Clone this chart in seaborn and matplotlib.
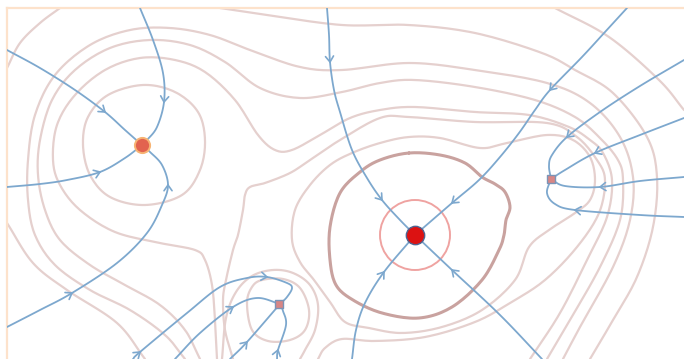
import numpy as np
import pandas as pd
import matplotlib
matplotlib.use("Agg")
import matplotlib.pyplot as plt
from matplotlib.patches import Circle
import seaborn as sns

# ---- isolines of the scalar field (pixel-space coordinates, y downwards) ----
iso_lines = {
    "corner":  ([7, 20, 40, 60], [68, 43, 23, 8]),
    "outer":   ([7, 33, 67, 117, 145], [223, 263, 290, 323, 359]),
    "top_r":   ([555, 609, 659, 684], [8, 37, 80, 110]),
    "A": ([220, 267, 342, 409, 475, 542, 575, 613, 647, 657, 653, 637, 613, 590],
          [8, 15, 25, 25, 33, 53, 70, 93, 137, 177, 227, 277, 320, 359]),
    "B": ([185, 165, 130, 90, 55, 35, 28, 28, 35, 55, 90, 130, 170, 210, 250, 300, 342,
           409, 475, 547, 590, 620, 633, 630, 613, 580, 563],
          [359, 335, 310, 290, 265, 235, 200, 160, 115, 75, 45, 30, 28, 35, 50, 67, 70,
           63, 70, 83, 103, 137, 177, 220, 267, 327, 359]),
    "C": ([200, 185, 160, 125, 90, 60, 45, 38, 40, 52, 75, 110, 150, 190, 225, 260, 300,
           342, 380, 415, 475, 535, 575, 600, 618, 623, 620, 600, 570, 547],
          [359, 330, 305, 285, 265, 240, 210, 175, 140, 100, 70, 48, 40, 45, 62, 88, 98,
           92, 83, 80, 87, 100, 117, 138, 160, 180, 220, 267, 320, 359]),
    "D": ([217, 215, 212, 205, 195, 160, 115, 80, 60, 53, 57, 75, 105, 140, 175, 205,
           235, 258, 275, 292, 320, 350, 380, 415, 475, 529, 569, 590, 603, 612, 607,
           587, 560, 530],
          [359, 320, 285, 260, 250, 243, 232, 210, 185, 160, 125, 95, 70, 58, 60, 72,
           100, 135, 150, 150, 135, 118, 110, 107, 112, 115, 127, 140, 153, 180, 217,
           260, 313, 359]),
    "E": ([233, 225, 223, 226, 233, 238, 243, 245, 250, 265, 290, 310, 340, 380, 409,
           475, 547, 577, 597, 605, 599, 577, 545, 510, 475, 425, 375, 342, 325, 318],
          [359, 330, 300, 280, 250, 235, 210, 195, 187, 183, 173, 160, 140, 118, 117,
           122, 123, 137, 160, 180, 213, 247, 280, 303, 322, 337, 341, 339, 348, 359]),
    "S2": ([222, 226, 236, 252, 273, 293, 310, 318, 315, 305, 300],
           [359, 318, 292, 276, 270, 273, 285, 305, 330, 350, 359]),
}
# closed isolines
iso_loops = {
    "peak_ring": ([83, 88, 108, 143, 175, 198, 205, 200, 182, 145, 110, 90],
                  [145, 117, 95, 85, 92, 112, 140, 170, 195, 205, 197, 175]),
    "F": ([352, 330, 310, 295, 292, 300, 314, 330, 345, 369, 402, 442, 482, 515, 529,
           549, 575, 590, 595, 590, 573, 547, 507, 480, 440, 409, 380],
          [153, 165, 185, 210, 240, 262, 280, 302, 322, 328, 333, 327, 310, 280, 247,
           230, 213, 200, 180, 157, 140, 135, 143, 148, 138, 137, 143]),
    "S1": ([247, 252, 262, 283, 300, 309, 305, 290, 268, 252],
           [303, 287, 280, 279, 288, 310, 330, 340, 341, 330]),
    "bold": ([409, 440, 465, 482, 495, 505, 510, 506, 504, 499, 482, 452, 419, 382, 353,
              336, 330, 330, 340, 360, 380],
             [153, 155, 163, 177, 184, 192, 207, 220, 235, 250, 280, 307, 318, 313, 300,
              285, 260, 227, 193, 172, 160]),
}
# ring of the maximum
max_ring_radius = 35

# ---- critical points ----
crit_x    = [415, 142, 551, 279]
crit_y    = [235, 145, 179, 304]
crit_kind = ["maximum", "peak", "saddle", "saddle"]

# ---- integral lines (listed in flow direction) ----
flow_lines = {
    "a": ([7, 40, 75, 105, 125, 142], [50, 68, 90, 112, 130, 145]),
    "b": ([140, 153, 163, 164, 157, 147, 142], [8, 40, 73, 102, 127, 140, 145]),
    "c": ([7, 40, 67, 100, 125, 142], [187, 184, 180, 172, 158, 145]),
    "d": ([7, 40, 72, 117, 147, 162, 168, 162, 150, 142],
          [327, 310, 293, 263, 233, 205, 185, 165, 152, 145]),
    "e": ([327, 329, 330, 334, 340, 352, 367, 382, 400, 415],
          [8, 35, 62, 90, 112, 150, 178, 200, 220, 235]),
    "f": ([627, 605, 582, 550, 535, 519, 500, 479, 452, 415],
          [8, 32, 57, 90, 110, 133, 157, 180, 203, 235]),
    "g": ([352, 356, 365, 384, 415], [359, 330, 303, 272, 235]),
    "h": ([542, 500, 452, 415], [359, 315, 270, 235]),
    "i": ([684, 640, 600, 567, 552, 549, 551], [60, 86, 112, 137, 155, 166, 179]),
    "j": ([684, 640, 595, 565, 551], [118, 135, 153, 170, 179]),
    "k": ([684, 640, 600, 565, 551], [177, 181, 187, 186, 179]),
    "l": ([684, 640, 575, 555, 547, 551], [217, 215, 210, 204, 193, 179]),
    "m": ([133, 140, 187, 220, 247, 267, 287, 292, 287, 280],
          [359, 352, 313, 287, 278, 277, 283, 288, 297, 304]),
    "n": ([175, 200, 233, 257, 280], [359, 333, 307, 298, 304]),
    "o": ([230, 247, 280], [359, 342, 304]),
    "p": ([277, 278, 286, 283, 280], [359, 350, 325, 311, 304]),
}
# vertices of each line that carry a direction chevron
arrow_at = {"a": [3], "b": [3], "c": [3], "d": [2, 6], "e": [2, 7], "f": [3, 8],
            "g": [3], "h": [2], "i": [3], "j": [2], "k": [2], "l": [2],
            "m": [1, 5], "n": [2], "o": [1], "p": [1]}

FLOW = "#7da8ce"
ISO = "#e5d0ce"
BOLD = "#c9a29f"
RING = "#efa3a1"
FRAME = "#fde2cb"
W, H = 684, 359
X0, Y0 = 7, 8


def catmull_rom(px, py, closed=False, n=12):
    P = np.column_stack([px, py]).astype(float)
    if closed:
        P = np.vstack([P[-1], P, P[0], P[1]])
    else:
        P = np.vstack([2 * P[0] - P[1], P, 2 * P[-1] - P[-2]])
    out = []
    t = np.linspace(0, 1, n, endpoint=False)[:, None]
    for i in range(1, len(P) - 2):
        p0, p1, p2, p3 = P[i - 1], P[i], P[i + 1], P[i + 2]
        out.append(0.5 * (2 * p1 + (-p0 + p2) * t + (2 * p0 - 5 * p1 + 4 * p2 - p3) * t ** 2
                          + (-p0 + 3 * p1 - 3 * p2 + p3) * t ** 3))
    out.append(P[-2][None])
    return np.vstack(out), n


def draw_path(ax, px, py, color, lw, closed=False, z=2):
    pts, n = catmull_rom(px, py, closed=closed)
    df = pd.DataFrame({"x": pts[:, 0], "y": pts[:, 1]})
    sns.lineplot(data=df, x="x", y="y", sort=False, estimator=None, color=color,
                 lw=lw, ax=ax, zorder=z)
    return pts, n


sns.set_theme(style="white")
fig = plt.figure(figsize=(W / 100, H / 100), dpi=100)
ax = fig.add_axes([X0 / W, 0, (W - X0) / W, (H - Y0) / H])
ax.set_xlim(X0, W)
ax.set_ylim(H, Y0)
ax.set_xticks([])
ax.set_yticks([])
for side in ("right", "bottom"):
    ax.spines[side].set_visible(False)
for side in ("left", "top"):
    ax.spines[side].set_color(FRAME)
    ax.spines[side].set_linewidth(1.6)

# isolines
for name, (px, py) in iso_lines.items():
    draw_path(ax, px, py, ISO, 1.6)
for name, (px, py) in iso_loops.items():
    if name == "bold":
        draw_path(ax, px, py, BOLD, 2.2, closed=True)
    else:
        draw_path(ax, px, py, ISO, 1.6, closed=True)
ax.add_patch(Circle((crit_x[0], crit_y[0]), max_ring_radius, fill=False,
                    edgecolor=RING, lw=1.4, zorder=2))

# integral lines with chevrons
for name, (px, py) in flow_lines.items():
    pts, n = draw_path(ax, px, py, FLOW, 1.3, z=3)
    for v in arrow_at[name]:
        j = v * n
        j0, j1 = max(j - 2, 0), min(j + 2, len(pts) - 1)
        d = pts[j1] - pts[j0]
        d = d / np.hypot(*d)
        tip = np.array([px[v], py[v]], float)
        for ang in (np.radians(35), -np.radians(35)):
            c, s = np.cos(ang), np.sin(ang)
            back = np.array([c * d[0] - s * d[1], s * d[0] + c * d[1]])
            ax.plot([tip[0], tip[0] - 7 * back[0]], [tip[1], tip[1] - 7 * back[1]],
                    color=FLOW, lw=1.2, zorder=3, solid_capstyle="round")

# critical points
cp = pd.DataFrame({"x": crit_x, "y": crit_y, "kind": crit_kind})
sns.scatterplot(data=cp[cp.kind == "maximum"], x="x", y="y", s=175, color="#dc1212",
                edgecolor="#4f6390", linewidth=1.0, ax=ax, zorder=5, legend=False)
sns.scatterplot(data=cp[cp.kind == "peak"], x="x", y="y", s=120, color="#e2634f",
                edgecolor="#f7b474", linewidth=1.4, ax=ax, zorder=5, legend=False)
sns.scatterplot(data=cp[cp.kind == "saddle"], x="x", y="y", s=36, marker="s",
                color="#d98685", edgecolor="#7d94b6", linewidth=1.0, ax=ax, zorder=5,
                legend=False)

ax.set_xlabel("")
ax.set_ylabel("")
fig.savefig("out.png", dpi=100)
